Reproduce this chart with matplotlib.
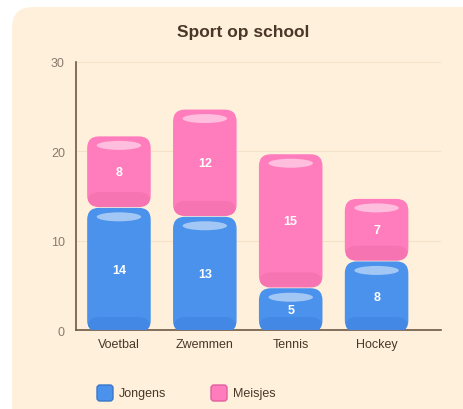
import numpy as np
import matplotlib.pyplot as plt
from matplotlib.patches import FancyBboxPatch, Ellipse

plt.rcParams['font.family'] = ['Liberation Sans', 'DejaVu Sans']

sports = ['Voetbal', 'Zwemmen', 'Tennis', 'Hockey']
jongens = [14, 13, 5, 8]
meisjes = [8, 12, 15, 7]
series_names = ['Jongens', 'Meisjes']

blue = '#4a92ec'
blue_dark = '#4288e4'
blue_light = '#a9cbf6'
pink = '#ff7dbd'
pink_dark = '#f674b2'
pink_light = '#ffc2df'
panel = '#fff0dc'
brown = '#6e5846'
text_dark = '#4a3728'

W, H = 464, 410
fig = plt.figure(figsize=(W / 100, H / 100), dpi=100, facecolor='white')

# cream panel behind everything
fig.patches.append(FancyBboxPatch((12 / W, -0.1), 1.2, 1.1 - 8 / H,
                                  boxstyle='round,pad=0,rounding_size=0.045',
                                  mutation_aspect=W / H,
                                  transform=fig.transFigure, fc=panel, ec='none', zorder=-5))

ax = fig.add_axes([76 / W, 1 - 331 / H, (441 - 76) / W, (331 - 63) / H])
ax.set_zorder(1)
ax.set_facecolor('none')
ax.set_xlim(-0.5, 3.75)
ax.set_ylim(0, 30)

# pixel -> data unit conversions
xpp = 4.25 / (441 - 76)
ypp = 30 / (331 - 63)

bw = 0.74
x = np.arange(len(sports))


def rbox(left, bottom, w, h, fc, z):
    return FancyBboxPatch((left, bottom), w, h,
                          boxstyle='round,pad=0,rounding_size=%f' % (12 * xpp),
                          mutation_aspect=ypp / xpp, fc=fc, ec='none', zorder=z)


def draw_segment(xc, y0, h, fc, dark, light, label):
    shift = 2.5 * ypp
    gap = 0.4 * ypp
    left = xc - bw / 2
    b = y0 - shift + gap
    hh = h - 2 * gap
    box = rbox(left, b, bw, hh, fc, 3)
    ax.add_patch(box)
    band = rbox(left, b, bw, 15 * ypp, dark, 3.1)
    ax.add_patch(band)
    band.set_clip_path(box)
    top = b + hh
    ax.add_patch(Ellipse((xc, top - 9 * ypp), bw * 0.7, 9 * ypp,
                         fc=light, ec='none', alpha=0.95, zorder=3.2))
    ax.text(xc, y0 + h / 2 - shift, str(label), ha='center', va='center', color='white',
            fontsize=9, fontweight='bold', zorder=4)


for i in range(len(sports)):
    draw_segment(x[i], 0, jongens[i], blue, blue_dark, blue_light, jongens[i])
    draw_segment(x[i], jongens[i], meisjes[i], pink, pink_dark, pink_light, meisjes[i])

ax.set_yticks([0, 10, 20, 30])
ax.set_xticks(x)
ax.set_xticklabels(sports)
ax.grid(axis='y', color='#f5e0c8', linewidth=0.8, zorder=0)
ax.set_axisbelow(True)
ax.tick_params(axis='y', length=0, pad=8, labelsize=9, labelcolor='#8a7a6c')
ax.tick_params(axis='x', length=0, pad=6, labelsize=9, labelcolor=text_dark)
for s in ['top', 'right']:
    ax.spines[s].set_visible(False)
for s in ['left', 'bottom']:
    ax.spines[s].set_color(brown)
    ax.spines[s].set_linewidth(1.2)
    ax.spines[s].set_zorder(2.5)

fig.text(243 / W, 1 - 33 / H, 'Sport op school', ha='center', va='center',
         fontsize=12.5, fontweight='bold', color=text_dark)

# legend
for name, fc, ec, px in [(series_names[0], blue, '#3a78c8', 97), (series_names[1], pink, '#e0609e', 211)]:
    fig.patches.append(FancyBboxPatch((px / W, 1 - 402 / H), 16 / W, 16 / H,
                                      boxstyle='round,pad=0,rounding_size=%f' % (3 / W),
                                      mutation_aspect=W / H, transform=fig.transFigure,
                                      fc=fc, ec=ec, lw=1, zorder=2))
    fig.text((px + 22) / W, 1 - 394 / H, name, ha='left', va='center',
             fontsize=9, color=text_dark)

fig.savefig('out.png', dpi=100, facecolor='white')
